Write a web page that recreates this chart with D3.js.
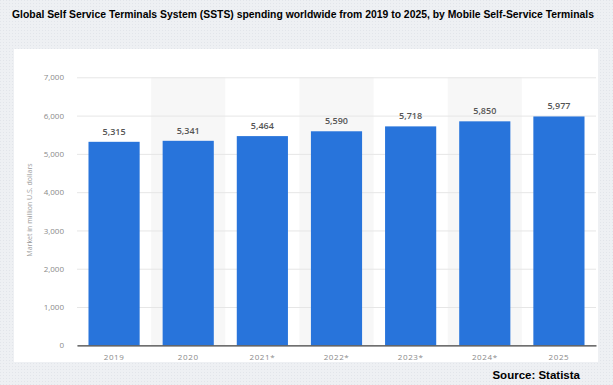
<!DOCTYPE html>
<html>
<head>
<meta charset="utf-8">
<script src="https://cdn.jsdelivr.net/npm/d3@7"></script>
<style>
  html, body { margin: 0; padding: 0; }
  body { width: 613px; height: 385px; overflow: hidden; }
</style>
</head>
<body>
<svg id="chart" width="613" height="385"></svg>
<script>
var years = ["2019", "2020", "2021*", "2022*", "2023*", "2024*", "2025"];
var spending = [5315, 5341, 5464, 5590, 5718, 5850, 5977];
var yTicks = [0, 1000, 2000, 3000, 4000, 5000, 6000, 7000];

var titleText = "Global Self Service Terminals System (SSTS) spending worldwide from 2019 to 2025, by Mobile Self-Service Terminals";
var yTitle = "Market in million U.S. dollars";
var sourceText = "Source: Statista";

var svg = d3.select("#chart");

// dotted page background
var defs = svg.append("defs");
var pat = defs.append("pattern")
    .attr("id", "dots")
    .attr("width", 3).attr("height", 3)
    .attr("patternUnits", "userSpaceOnUse");
pat.append("rect").attr("width", 3).attr("height", 3).attr("fill", "#eef0f3");
pat.append("rect").attr("width", 1).attr("height", 1).attr("fill", "#e2e5ea");

svg.append("rect")
    .attr("width", 613).attr("height", 385)
    .attr("fill", "url(#dots)");

// white panel
svg.append("rect")
    .attr("x", 14).attr("y", 49)
    .attr("width", 584).attr("height", 313)
    .attr("fill", "#ffffff");

var x = d3.scaleBand()
    .domain(years)
    .range([77, 596])
    .paddingInner(0.31)
    .paddingOuter(0.155);

var y = d3.scaleLinear()
    .domain([0, 7000])
    .range([345.3, 77.3]);

// alternating column shading
svg.append("g").selectAll("rect")
    .data(years.filter(function(d, i) { return i % 2 == 1; }))
    .enter().append("rect")
    .attr("x", function(d) { return x(d) - x.step() * x.paddingInner() / 2; })
    .attr("width", x.step())
    .attr("y", y(7000))
    .attr("height", y(0) - y(7000))
    .attr("fill", "#f7f7f7");

// grid + y axis
var yAxis = d3.axisLeft(y)
    .tickValues(yTicks)
    .tickSize(-(596 - 77))
    .tickPadding(13)
    .tickFormat(d3.format(","));

var gy = svg.append("g")
    .attr("transform", "translate(77,0)")
    .call(yAxis);
gy.select(".domain").remove();
gy.selectAll(".tick line").attr("stroke", "#e6e6e6").attr("stroke-width", 1);
gy.selectAll(".tick text")
    .attr("fill", "#8a8a8a")
    .style("font-family", "'Open Sans', sans-serif")
    .style("font-size", "8px");

// bars
svg.append("g").selectAll("rect")
    .data(spending)
    .enter().append("rect")
    .attr("x", function(d, i) { return x(years[i]); })
    .attr("width", x.bandwidth())
    .attr("y", function(d) { return y(d); })
    .attr("height", function(d) { return y(0) - y(d); })
    .attr("fill", "#2874db");

// value labels
svg.append("g").selectAll("text")
    .data(spending)
    .enter().append("text")
    .attr("x", function(d, i) { return x(years[i]) + x.bandwidth() / 2; })
    .attr("y", function(d) { return y(d) - 7; })
    .attr("text-anchor", "middle")
    .attr("fill", "#555")
    .style("font-family", "'Open Sans', sans-serif")
    .style("font-weight", "600")
    .style("font-size", "9px")
    .text(function(d) { return d3.format(",")(d); });

// x axis
var gx = svg.append("g")
    .attr("transform", "translate(0," + y(0) + ")")
    .call(d3.axisBottom(x).tickSize(0).tickPadding(9));
gx.select(".domain")
    .attr("stroke", "#444")
    .attr("stroke-width", 1.3);
gx.selectAll(".tick text")
    .attr("fill", "#8a8a8a")
    .style("font-family", "'Open Sans', sans-serif")
    .style("font-size", "8px")
    .style("letter-spacing", "0.6px");

// y axis title
svg.append("text")
    .attr("transform", "translate(32,210) rotate(-90)")
    .attr("text-anchor", "middle")
    .attr("fill", "#9a9a9a")
    .style("font-family", "'Open Sans', sans-serif")
    .style("font-size", "7px")
    .text(yTitle);

// title: size it so it spans ~584px without squeezing glyphs
var title = svg.append("text")
    .attr("x", 12).attr("y", 18)
    .attr("fill", "#000")
    .style("font-family", "'Liberation Sans Narrow', 'Liberation Sans', sans-serif")
    .style("font-weight", "bold")
    .style("font-size", "12px")
    .text(titleText);
var tw = title.node().getComputedTextLength();
title.style("font-size", Math.min(12, 12 * 582 / tw).toFixed(2) + "px");

// source
svg.append("text")
    .attr("x", 580).attr("y", 379)
    .attr("text-anchor", "end")
    .attr("fill", "#000")
    .style("font-family", "'Liberation Sans Narrow', 'Liberation Sans', sans-serif")
    .style("font-weight", "bold")
    .style("font-size", "11.5px")
    .text(sourceText);
</script>
</body>
</html>
